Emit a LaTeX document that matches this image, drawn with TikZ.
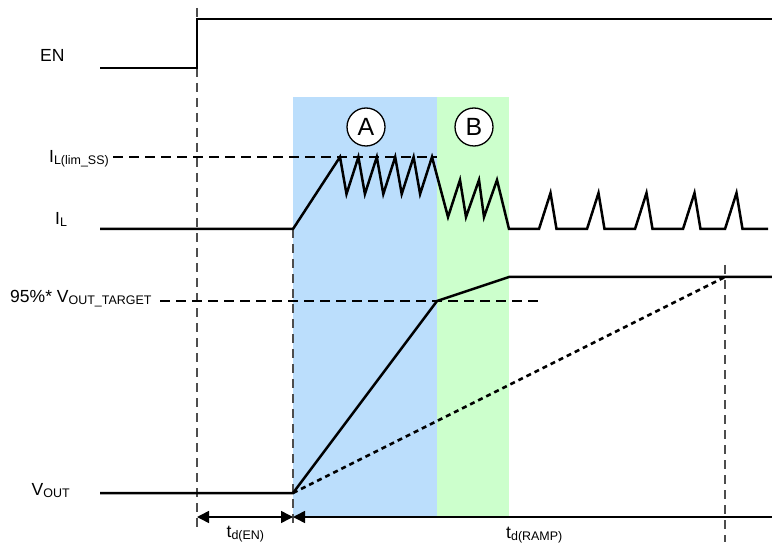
\documentclass[tikz,border=0pt]{standalone}
\usepackage{fontspec}
\setmainfont{Liberation Sans}
\usetikzlibrary{arrows.meta}
\definecolor{phaseA}{RGB}{187,222,252}
\definecolor{phaseB}{RGB}{204,255,204}
\definecolor{guidegray}{RGB}{77,77,77}
\newcommand{\sbs}[1]{\raisebox{-2bp}{\fontsize{12.5}{12.5}\selectfont #1}}
\begin{document}
\begin{tikzpicture}[x=1bp,y=-1bp,>={Triangle[length=12bp,width=12bp]},line join=miter,
    wave/.style={line width=2.5bp},
    guide/.style={draw=guidegray,line width=1.8bp,dash pattern=on 9bp off 6bp},
    level/.style={line width=1.3bp,dash pattern=on 10bp off 6bp},
    lbl/.style={font=\fontsize{17.6}{20}\selectfont,inner sep=0pt,anchor=base west},
    phase/.style={circle,draw,fill=white,line width=1.3bp,minimum size=38bp,inner sep=0pt,font=\fontsize{25}{25}\selectfont}]
    \useasboundingbox (0,0) rectangle (772,548);
    %% phases
    \fill[phaseA] (293,97) rectangle (437,517);
    \fill[phaseB] (437,97) rectangle (509,517);
    \node[phase] (A) at (366,127) {A};
    \node[phase] (B) at (474,127) {B};
    %% guides
    \draw[guide] (197,8) -- (197,528);
    \draw[guide] (293,229) -- (293,528);
    \draw[guide] (725,265) -- (725,542);
    \draw[level] (113,157) -- (437,157);
    \draw[level] (160,301) -- (540,301);
    %% waveforms
    \draw[wave] (100,68) -- (197,68) -- (197,19) -- (772,19);
    \draw[wave] (100,229) -- (293,229) -- (340,157)
      foreach \k in {0,...,4} {-- ({346.5+18.4*\k},194) -- ({358.4+18.4*\k},157)}
      -- (448,217) -- (460,180) -- (466,217) -- (479,180) -- (484,217) -- (497,180) -- (509,229)
      foreach \s in {539,587,635,683,725} {-- (\s,229) -- ({\s+11.5},193) -- ({\s+17.5},229)}
      -- (768,229);
    \draw[wave] (100,493) -- (293,493) -- (437,301) -- (509,277) -- (772,277);
    \draw[line width=2.5bp,dash pattern=on 5bp off 4bp] (293,493) -- (725,277);
    %% delays
    \coordinate (tEN) at (197,517);
    \coordinate (tRAMP) at (293,517);
    \coordinate (tEND) at (772,517);
    \draw[<->,line width=1.5bp] (tEN) -- (tRAMP);
    \draw[<-,line width=1.5bp] (tRAMP) -- (tEND);
    %% labels
    \node[lbl] (en) at (40,61.5) {EN};
    \node[lbl] (ilim) at (49,163) {I\sbs{L(lim\_SS)}};
    \node[lbl] (il) at (55,225) {I\sbs{L}};
    \node[lbl] (vtgt) at (10,302.5) {95\%* V\sbs{OUT\_TARGET}};
    \node[lbl] (vout) at (31.5,495) {V\sbs{OUT}};
    \node[lbl] (ten) at (226.5,537) {t\sbs{d(EN)}};
    \node[lbl] (tramp) at (506,538) {t\sbs{d(RAMP)}};
    %
\end{tikzpicture}
\end{document}
